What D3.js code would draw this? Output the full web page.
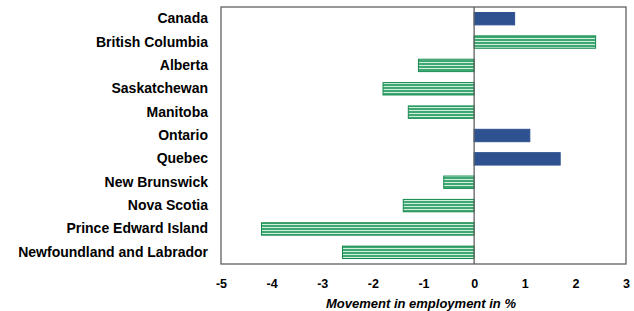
<!DOCTYPE html>
<html>
<head>
<meta charset="utf-8">
<script src="https://cdn.jsdelivr.net/npm/d3@7"></script>
<style>
  body { margin: 0; background: #fff; }
  text { font-family: "Liberation Sans", Arial, sans-serif; }
</style>
</head>
<body>
<div id="chart"></div>
<script>
// data
var provinces = ["Canada", "British Columbia", "Alberta", "Saskatchewan", "Manitoba", "Ontario",
                 "Quebec", "New Brunswick", "Nova Scotia", "Prince Edward Island", "Newfoundland and Labrador"];
var movement = [0.8, 2.4, -1.1, -1.8, -1.3, 1.1, 1.7, -0.6, -1.4, -4.2, -2.6];
var xTicks = [-5, -4, -3, -2, -1, 0, 1, 2, 3];
var axisTitle = "Movement in employment in %";
var solidBars = ["Canada", "Ontario", "Quebec"];

var width = 634, height = 311;
var plotLeft = 221, plotRight = 626, plotTop = 7, plotBottom = 264;

var svg = d3.select("#chart").append("svg")
    .attr("width", width).attr("height", height);

// striped fill for the other provinces
var defs = svg.append("defs");
var pat = defs.append("pattern")
    .attr("id", "stripes")
    .attr("patternUnits", "userSpaceOnUse")
    .attr("width", 6).attr("height", 3);
pat.append("rect").attr("width", 6).attr("height", 3).attr("fill", "#d2eede");
pat.append("rect").attr("width", 6).attr("height", 2).attr("fill", "#3fa872");

var xscale = d3.scaleLinear().domain([-5, 3]).range([plotLeft, plotRight]);
var yscale = d3.scaleBand().domain(provinces).range([plotTop, plotBottom])
    .paddingInner(0.47).paddingOuter(0.235);

// plot frame
svg.append("rect")
    .attr("x", plotLeft).attr("y", plotTop)
    .attr("width", plotRight - plotLeft).attr("height", plotBottom - plotTop)
    .attr("fill", "none").attr("stroke", "#606060").attr("stroke-width", 1.3);

// bars
var data = provinces.map(function (p, i) { return { name: p, value: movement[i] }; });
svg.selectAll("rect.bar").data(data).enter().append("rect")
    .attr("class", "bar")
    .attr("x", function (d) { return xscale(Math.min(0, d.value)); })
    .attr("y", function (d) { return yscale(d.name); })
    .attr("width", function (d) { return Math.abs(xscale(d.value) - xscale(0)); })
    .attr("height", yscale.bandwidth())
    .attr("fill", function (d) { return solidBars.indexOf(d.name) >= 0 ? "#2e5190" : "url(#stripes)"; })
    .attr("stroke", function (d) { return solidBars.indexOf(d.name) >= 0 ? "#2e5190" : "#168a4e"; })
    .attr("stroke-width", 1);

// zero line
svg.append("line")
    .attr("x1", xscale(0)).attr("x2", xscale(0))
    .attr("y1", plotTop).attr("y2", plotBottom)
    .attr("stroke", "#606060").attr("stroke-width", 1.3);

// x axis labels (no tick marks)
var xaxis = d3.axisBottom(xscale).tickValues(xTicks).tickSize(0).tickPadding(0)
    .tickFormat(function (d) { return String(d); });
var gx = svg.append("g").attr("transform", "translate(0," + 279 + ")").call(xaxis);
gx.select(".domain").remove();
gx.selectAll("text")
    .attr("font-family", "Liberation Sans, Arial, sans-serif")
    .attr("font-size", 12.5).attr("font-weight", "bold").attr("fill", "#000");

// category labels
var yaxis = d3.axisLeft(yscale).tickSize(0).tickPadding(0);
var gy = svg.append("g").attr("transform", "translate(" + 208 + ",0)").call(yaxis);
gy.select(".domain").remove();
gy.selectAll("text")
    .attr("font-family", "Liberation Sans, Arial, sans-serif")
    .attr("font-size", 14).attr("font-weight", "bold").attr("fill", "#000");

// axis title
svg.append("text")
    .attr("x", 421).attr("y", 308)
    .attr("text-anchor", "middle")
    .attr("font-size", 13).attr("font-weight", "bold").attr("font-style", "italic")
    .text(axisTitle);
</script>
</body>
</html>
